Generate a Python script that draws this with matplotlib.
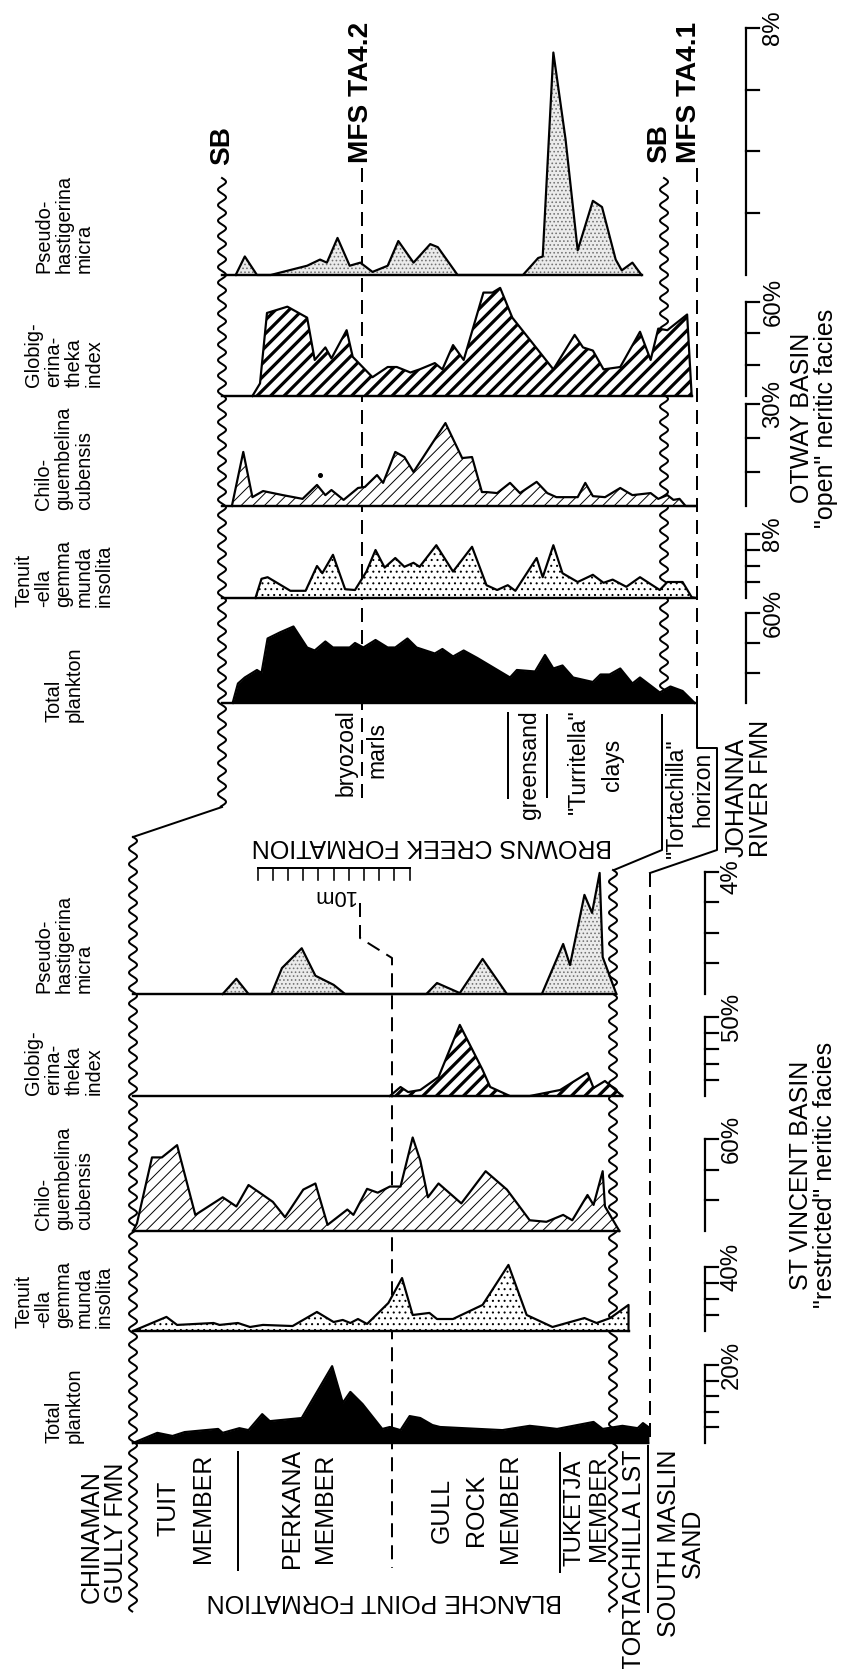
import matplotlib.pyplot as plt
import numpy as np
from matplotlib.collections import LineCollection

plt.rcParams['font.family'] = ['Liberation Sans', 'DejaVu Sans']

W, H, DPI = 841, 1669, 70


def pt(px):
    # pixel size -> points at the figure dpi
    return px * 72 / DPI


PX_PER_M = 15.2

# ---------------- Otway Basin ("open" neritic facies) ----------------
# depth below the top sequence boundary (m), abundance (%)
otway_total_m = [0.7, 1.05, 1.5, 2.3, 2.6, 3.0, 3.8, 4.7, 5.6, 6.1, 6.8, 7.3, 8.4, 8.75, 9.3,
                 10.1, 10.9, 11.4, 12.2, 12.8, 14.0, 14.5, 15.2, 15.9, 16.8, 18.95, 19.4, 20.6,
                 21.25, 21.8, 22.4, 23.1, 24.4, 24.9, 25.5, 26.2, 27.0, 27.5, 28.8, 29.5, 30.3, 31.1]
otway_total_pct = [0, 13, 17, 22, 20, 43, 47, 51, 37, 35, 41, 37, 37, 40, 37,
                   42, 37, 37, 43, 37, 33, 36, 31, 35, 30, 17, 22, 21,
                   32, 23, 25, 17, 14, 19, 19, 23, 13, 17, 7, 11, 8, 0]

otway_tenuit_m = [2.2, 2.6, 3.0, 4.5, 5.5, 6.25, 6.6, 7.3, 8.1, 8.75, 9.5, 10.1, 10.7, 11.4, 12.0,
                  12.6, 13.0, 14.1, 15.2, 16.45, 17.4, 18.1, 18.8, 19.3, 20.7, 21.1, 21.8, 22.4,
                  23.4, 24.4, 25.1, 25.7, 26.6, 27.5, 28.8, 29.3, 30.3, 30.9, 31.2]
otway_tenuit_pct = [0, 2.4, 2.6, 0.9, 0.9, 4.0, 3.1, 5.4, 1.1, 1.0, 3.3, 6.0, 3.8, 5.0, 3.9,
                    4.4, 3.9, 6.6, 3.3, 6.4, 1.6, 1.0, 1.6, 0.9, 5.0, 2.6, 6.6, 3.1,
                    2.0, 2.9, 1.9, 2.3, 1.4, 2.6, 1.0, 2.0, 2.0, 0.1, 0]

otway_chilo_m = [0.65, 1.4, 2.0, 2.7, 4.0, 5.3, 6.25, 6.8, 7.2, 8.0, 8.95, 9.4, 10.2, 10.6, 11.4,
                 12.0, 12.6, 14.7, 15.8, 16.45, 17.1, 17.4, 18.1, 18.95, 19.6, 20.7, 21.4, 22.0,
                 23.4, 23.9, 24.4, 25.2, 26.2, 27.0, 28.2, 28.7, 29.3, 29.7, 30.1, 30.5, 31.2]
otway_chilo_pct = [0, 15.9, 2.6, 4.4, 3.2, 2.1, 6.2, 3.2, 4.7, 1.8, 5.3, 5.6, 9.1, 6.8, 15.9,
                   14.4, 10.0, 24.4, 14.1, 14.4, 4.1, 4.1, 3.8, 6.8, 3.8, 7.1, 3.8, 2.6,
                   2.6, 6.8, 2.9, 2.6, 5.3, 3.2, 3.8, 2.1, 3.2, 1.8, 2.1, 0, 0]
otway_chilo_dot = (6.45, 9.1)

otway_globig_m = [2.0, 2.5, 2.96, 4.3, 5.6, 6.1, 6.8, 7.2, 8.2, 8.6, 9.9, 10.9, 11.5, 12.4, 13.0,
                  14.0, 14.5, 15.2, 15.9, 17.2, 17.8, 18.3, 19.1, 21.8, 23.2, 23.75, 24.4, 25.1,
                  26.2, 27.5, 28.2, 28.7, 29.3, 30.6, 30.9]
otway_globig_pct = [0, 8, 53, 57, 50, 23, 31, 24, 42, 25, 12, 18.5, 18.5, 15, 17,
                    21, 17, 32.5, 23, 66, 66, 69, 50, 17, 39, 31, 29, 17,
                    18.5, 41, 23, 43, 42, 52, 0]

otway_pseudo_m = [0.9, 1.5, 2.3, 3.2, 5.6, 6.45, 6.9, 7.6, 8.4, 9.1, 9.9, 10.9, 11.6, 12.6, 13.7,
                  14.2, 15.5, 19.8, 20.8, 21.1, 21.8, 22.6, 23.4, 24.4, 25.0, 25.9, 26.3, 27.0, 27.6]
otway_pseudo_pct = [0, 0.6, 0, 0, 0.3, 0.5, 0.4, 1.2, 0.3, 0.4, 0.1, 0.3, 1.1, 0.4, 1.0,
                    0.9, 0, 0, 0.55, 0.6, 7.2, 4.4, 0.8, 2.4, 2.2, 0.5, 0.15, 0.4, 0]

# ---------------- St Vincent Basin ("restricted" neritic facies) ----------------
vincent_total_m = [0, 1.6, 2.6, 3.4, 5.6, 5.9, 7.0, 7.6, 8.5, 9.0, 11.1, 13.1, 13.8, 14.3, 15.1,
                   16.4, 16.9, 17.6, 18.2, 18.9, 19.7, 20.2, 24.3, 26.1, 26.8, 27.9, 30.3, 30.9,
                   32.2, 33.2, 33.55, 33.9, 33.9]
vincent_total_pct = [0, 2.6, 1.8, 2.8, 3.6, 2.6, 3.8, 3.3, 7.4, 5.6, 6.4, 19.7, 10.3, 13.1, 10.0,
                     3.6, 4.1, 3.3, 6.9, 6.4, 4.6, 4.1, 3.3, 4.4, 4.1, 3.6, 5.4, 3.6,
                     4.4, 3.8, 5.1, 4.1, 0]

vincent_tenuit_m = [0, 2.2, 2.9, 5.3, 5.7, 6.9, 7.7, 8.55, 10.5, 12.1, 13.2, 13.8, 14.3, 14.8, 15.4,
                    16.8, 17.7, 18.4, 19.5, 20.0, 21.05, 23.0, 24.7, 25.9, 27.6, 29.7, 30.5, 31.4,
                    32.6, 32.6]
vincent_tenuit_pct = [0, 8.8, 3.8, 5.0, 3.8, 5.0, 2.5, 3.8, 3.1, 11.9, 5.6, 6.9, 5.0, 7.5, 4.4,
                      17.5, 33.1, 10.0, 11.3, 7.5, 7.5, 16.3, 41.3, 10.0, 2.5, 8.1, 5.0, 8.1,
                      16.3, 0]

vincent_chilo_m = [0, 0.26, 1.25, 1.9, 2.9, 4.1, 5.9, 6.8, 7.6, 8.55, 9.2, 10.0, 11.2, 12.0, 12.8,
                   14.1, 14.5, 15.4, 16.1, 16.9, 17.6, 18.4, 18.9, 19.4, 20.1, 21.6, 23.2, 24.6,
                   26.1, 27.2, 28.3, 28.9, 29.9, 30.3, 30.9, 31.05, 32.0]
vincent_chilo_pct = [0, 5, 48, 48, 56, 10.5, 22, 16, 30, 23.5, 19, 9, 27, 31, 4,
                     14, 10.5, 27.5, 25, 29, 29, 61, 46, 22, 31, 18, 39, 27,
                     7, 6, 10.5, 7, 23.5, 17, 39, 16, 0]

vincent_globig_m = [16.9, 17.6, 18.1, 18.9, 20.1, 21.5, 23.0, 23.5, 24.8, 26.1, 28.1, 29.9, 30.3,
                    31.05, 32.2]
vincent_globig_pct = [0, 5.7, 2.5, 3.8, 12, 45, 16.5, 5.7, 0, 0, 3.8, 14.6, 5.1, 9.5, 0]

vincent_pseudo_m = [5.9, 6.8, 7.6, 9.1, 9.8, 11.1, 12.0, 13.2, 13.95, 19.3, 20.0, 21.5, 23.0, 24.6,
                    26.9, 28.3, 28.75, 29.7, 30.2, 30.7, 30.9, 31.8]
vincent_pseudo_pct = [0, 0.5, 0, 0, 0.85, 1.5, 0.6, 0.3, 0, 0, 0.36, 0.03, 1.15, 0,
                      0, 1.64, 0.95, 3.25, 2.66, 3.97, 1.21, 0]

# column titles
titles = ['Total\nplankton', 'Tenuit\n-ella\ngemma\nmunda\ninsolita', 'Chilo-\nguembelina\ncubensis',
          'Globig-\nerina-\ntheka\nindex', 'Pseudo-\nhastigerina\nmicra']

fig = plt.figure(figsize=(W / DPI, H / DPI), dpi=DPI)
ov = fig.add_axes([0, 0, 1, 1], zorder=0)
ov.set_xlim(0, W)
ov.set_ylim(H, 0)
ov.axis('off')


def panel(x0, base, ppu, vmax, span=40):
    ax = fig.add_axes([x0 / W, 1 - base / H, span * PX_PER_M / W, vmax * ppu / H], zorder=2)
    ax.set_xlim(0, span)
    ax.set_ylim(0, vmax)
    ax.axis('off')
    ax.ppu = ppu
    return ax


STYLES = {
    'black': dict(color='k', lw=0),
    'dots': dict(facecolor='white', edgecolor='k', hatch='..', lw=0),
    'fine': dict(facecolor='0.92', edgecolor='0.45', hatch='...', lw=0),
    'hatch': dict(facecolor='white', edgecolor='k', hatch='//', lw=0),
    'bold': dict(facecolor='white', lw=0),
}


def bold_stripes(ax, poly, vtop, step_px=13.5, lw_px=3.2):
    # thick "/" stripes clipped to the filled profile
    hpx = vtop * ax.ppu
    segs = [[(c / PX_PER_M, 0), ((c + hpx) / PX_PER_M, vtop)]
            for c in np.arange(-hpx, 40 * PX_PER_M, step_px)]
    lc = LineCollection(segs, colors='k', linewidths=pt(lw_px))
    lc.set_clip_path(poly.get_paths()[0], ax.transData)
    ax.add_collection(lc, autolim=False)


def profile(ax, d, v, style, end=None):
    poly = ax.fill_between(d, v, 0, clip_on=False, **STYLES[style])
    if style == 'bold':
        bold_stripes(ax, poly, max(v) * 1.05)
    ax.plot(d, v, color='k', lw=pt(2.2), clip_on=False)
    ax.plot([0, end if end else d[-1]], [0, 0], color='k', lw=pt(2.4), clip_on=False)


def scale_bar(ax, x, top, step, label, dy=0):
    ax.plot([x, x], [0, top], color='k', lw=pt(2.2), clip_on=False)
    for t in np.arange(step, top + step / 2, step):
        ax.plot([x, x + 0.86], [t, t], color='k', lw=pt(2.2), clip_on=False)
    ax.annotate(label, (x, top), xytext=(pt(27), pt(dy)), textcoords='offset points',
                rotation=90, rotation_mode='anchor', ha='center', va='center',
                fontsize=pt(24), annotation_clip=False)


# ---- Otway panels ----
ax = panel(222, 275, 30.9, 8)
profile(ax, otway_pseudo_m, otway_pseudo_pct, 'fine')
scale_bar(ax, 34.5, 8, 2, '8%')

ax = panel(222, 396, 1.567, 60)
profile(ax, otway_globig_m, otway_globig_pct, 'bold')
scale_bar(ax, 34.5, 60, 20, '60%')

ax = panel(222, 506, 3.4, 30)
profile(ax, otway_chilo_m, otway_chilo_pct, 'hatch')
ax.plot(*otway_chilo_dot, 'o', color='k', ms=pt(4), clip_on=False)
scale_bar(ax, 34.5, 30, 10, '30%')

ax = panel(222, 598, 8.0, 8)
profile(ax, otway_tenuit_m, otway_tenuit_pct, 'dots')
scale_bar(ax, 34.5, 8, 2, '8%')

ax = panel(222, 703, 1.5, 60)
profile(ax, otway_total_m, otway_total_pct, 'black')
scale_bar(ax, 34.5, 60, 20, '60%')

# ---- St Vincent panels ----
ax = panel(133, 994, 30.5, 4)
profile(ax, vincent_pseudo_m, vincent_pseudo_pct, 'fine')
scale_bar(ax, 37.6, 4, 1, '4%', dy=-5)
# 10 m depth scale
ax.plot([8.2, 18.2], [4.13, 4.13], color='k', lw=pt(2), clip_on=False)
for m in np.arange(8.2, 18.3, 1.0):
    ax.plot([m, m], [4.13, 3.74], color='k', lw=pt(1.6), clip_on=False)
ax.annotate('10m', (13.2, 4.13), xytext=(0, -pt(27)), textcoords='offset points',
            rotation=180, ha='center', va='center', fontsize=pt(22), annotation_clip=False)

ax = panel(133, 1096, 1.58, 50)
profile(ax, vincent_globig_m, vincent_globig_pct, 'bold', end=32.2)
scale_bar(ax, 37.6, 50, 10, '50%')

ax = panel(133, 1231, 1.533, 60)
profile(ax, vincent_chilo_m, vincent_chilo_pct, 'hatch')
scale_bar(ax, 37.6, 60, 20, '60%')

ax = panel(133, 1331, 1.6, 40)
profile(ax, vincent_tenuit_m, vincent_tenuit_pct, 'dots')
scale_bar(ax, 37.6, 40, 10, '40%')

ax = panel(133, 1443, 3.9, 20)
profile(ax, vincent_total_m, vincent_total_pct, 'black')
scale_bar(ax, 37.6, 20, 4, '20%')

# ---- overlay: boundaries, labels ----
LW = pt(2)


def wavy(x, y0, y1, amp=4.0, wl=15.5):
    y = np.arange(y0, y1, 0.5)
    ov.plot(x + amp * np.sin(2 * np.pi * (y - y0) / wl), y, color='k', lw=LW)


def dashed(xs, ys):
    ov.plot(xs, ys, color='k', lw=LW, linestyle=(0, (7, 4)))


def solid(xs, ys):
    ov.plot(xs, ys, color='k', lw=LW)


wavy(222, 178, 807)
solid([222, 133], [807, 837])
wavy(133, 837, 1612)
wavy(664, 178, 700)
solid([662, 662, 614], [715, 850, 870])
wavy(613, 870, 1612)

dashed([362, 362], [168, 800])
dashed([360, 360, 392, 392], [903, 938, 958, 1568])
dashed([697, 697], [168, 705])
solid([697, 697, 717, 717, 650], [705, 748, 748, 850, 873])
dashed([650, 650], [873, 1443])
solid([648, 648], [1446, 1612])

solid([508, 508], [713, 798])
solid([547, 547], [715, 797])
solid([238, 238], [1452, 1570])
solid([560, 560], [1453, 1572])

# column titles, bottom-aligned against each panel's baseline
title_starts = [(722, 1443), (607, 1328), (510, 1230), (387, 1095), (273, 993)]
for (base_o, base_v), t in zip(title_starts, titles):
    for base in (base_o, base_v):
        ov.text(64, base, t, rotation=90, rotation_mode='anchor', ha='left', va='center',
                multialignment='left', fontsize=pt(20), linespacing=1.08)

rot = dict(rotation=90, rotation_mode='anchor', va='center')
bold = dict(fontsize=pt(28), fontweight='bold')
ov.text(222, 165, 'SB', ha='left', **rot, **bold)
ov.text(361, 163, 'MFS TA4.2', ha='left', **rot, **bold)
ov.text(659, 163, 'SB', ha='left', **rot, **bold)
ov.text(689, 163, 'MFS TA4.1', ha='left', **rot, **bold)

small = dict(fontsize=pt(23), ha='center', **rot)
ov.text(346, 753, 'bryozoal', **small)
ov.text(377, 750, 'marls', **small)
ov.text(530, 765, 'greensand', **small)
ov.text(578, 762, '"Turritella"', **small)
ov.text(613, 765, 'clays', **small)
ov.text(676, 798, '"Tortachilla"', **small)
ov.text(703, 789, 'horizon', **small)

big = dict(fontsize=pt(25))
ov.text(749, 857, 'JOHANNA\nRIVER FMN', ha='left', multialignment='left', linespacing=1.0, **rot, **big)
ov.text(432, 846, 'BROWNS CREEK FORMATION', rotation=180, ha='center', va='center', **big)
ov.text(814, 418, 'OTWAY BASIN\n"open" neritic facies', ha='center', multialignment='center',
        linespacing=1.0, **rot, **big)
ov.text(813, 1175, 'ST VINCENT BASIN\n"restricted" neritic facies', ha='center',
        multialignment='center', linespacing=1.0, **rot, **big)

ov.text(104, 1603, 'CHINAMAN\nGULLY FMN', ha='left', multialignment='left', linespacing=1.0, **rot, **big)
ov.text(169, 1508, 'TUIT', ha='center', **rot, **big)
ov.text(203, 1508, 'MEMBER', ha='center', **rot, **big)
ov.text(292, 1508, 'PERKANA', ha='center', **rot, **big)
ov.text(325, 1508, 'MEMBER', ha='center', **rot, **big)
ov.text(442, 1510, 'GULL', ha='center', **rot, **big)
ov.text(476, 1510, 'ROCK', ha='center', **rot, **big)
ov.text(510, 1508, 'MEMBER', ha='center', **rot, **big)
ov.text(575, 1513, 'TUKETJA', ha='center', fontsize=pt(24), **rot)
ov.text(599, 1508, 'MEMBER', ha='center', fontsize=pt(24), **rot)
ov.text(634, 1450, 'TORTACHILLA LST', ha='right', **rot, **big)
ov.text(681, 1543, 'SOUTH MASLIN\nSAND', ha='center', multialignment='center', linespacing=1.0, **rot, **big)
ov.text(384, 1601, 'BLANCHE POINT FORMATION', rotation=180, ha='center', va='center', **big)

fig.savefig('out.png', dpi=DPI, facecolor='white')
